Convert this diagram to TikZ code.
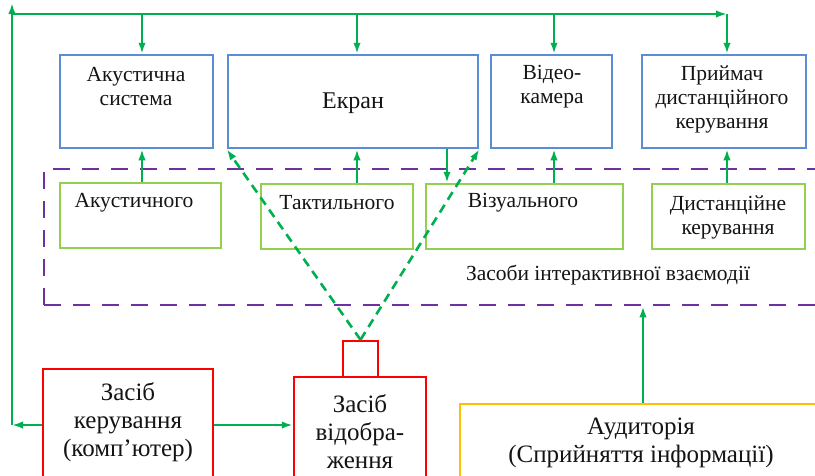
\documentclass[tikz,border=0pt]{standalone}
\usepackage{fontspec}
\setmainfont{Liberation Serif}
\usetikzlibrary{arrows.meta}
\definecolor{cblue}{RGB}{91,141,214}
\definecolor{cgreenbox}{RGB}{146,208,80}
\definecolor{cgreen}{RGB}{0,176,80}
\definecolor{cpurple}{RGB}{112,48,160}
\definecolor{cred}{RGB}{255,0,0}
\definecolor{corange}{RGB}{255,192,0}
\definecolor{ctext}{RGB}{20,20,20}
\tikzset{
  box/.style={draw, rectangle, inner sep=0pt, line width=2.5pt},
  bluebox/.style={box, draw=cblue},
  greenbox/.style={box, draw=cgreenbox},
  redbox/.style={box, draw=cred},
  orangebox/.style={box, draw=corange},
  purplebox/.style={box, draw=cpurple, line width=2.8pt, dash pattern=on 17pt off 12pt},
  small/.style={font=\fontsize{21.5}{24}\selectfont, align=center, inner sep=0pt, text=ctext},
  big/.style={font=\fontsize{25}{28}\selectfont, align=center, inner sep=0pt, text=ctext},
  conn/.style={draw=cgreen, line width=2.2pt},
  arr/.style={conn, -{Latex[length=11pt,width=7.5pt]}},
  darr/.style={arr, dash pattern=on 9pt off 6pt, line width=2.6pt},
}
\begin{document}
\begin{tikzpicture}[x=1pt,y=-1pt]
\clip (0,0) rectangle (815,475);
\fill[white] (0,0) rectangle (815,475);
% blue boxes
\node[bluebox, minimum width=153pt, minimum height=93pt] (ak) at (136.5,101.5) {};
\node[bluebox, minimum width=250pt, minimum height=93pt] (ekr) at (353,101.5) {};
\node[bluebox, minimum width=121pt, minimum height=93pt] (vid) at (551.5,101.5) {};
\node[bluebox, minimum width=164pt, minimum height=93pt] (pri) at (724,101.5) {};
\node[small] (tak) at (136,87) {Акустична\\система};
\node[big, font=\fontsize{24}{28}\selectfont] (tekr) at (353,103) {Екран};
\node[small] (tvid) at (552,87) {Відео-\\камера};
\node[small] (tpri) at (722,99) {Приймач\\дистанційного\\керування};
% purple dashed group
\node[purplebox, minimum width=786pt, minimum height=136pt] (pur) at (437,237) {};
\node[small] (tpur) at (608,275) {Засоби інтерактивної взаємодії};
% green boxes
\node[greenbox, minimum width=161pt, minimum height=65pt] (gak) at (140.5,215.5) {};
\node[greenbox, minimum width=152pt, minimum height=65pt] (gtak) at (337,216.5) {};
\node[greenbox, minimum width=197pt, minimum height=65pt] (gviz) at (524.5,216.5) {};
\node[greenbox, minimum width=153pt, minimum height=65pt] (gdist) at (728.5,216.5) {};
\node[small] (tgak) at (134,203) {Акустичного};
\node[small] (tgtak) at (337,203) {Тактильного};
\node[small] (tgviz) at (523,203) {Візуального};
\node[small] (tgdist) at (728,217.5) {Дистанційне\\керування};
% red boxes
\node[redbox, minimum width=35pt, minimum height=36pt] (proj) at (360.5,359) {};
\node[redbox, minimum width=132pt, minimum height=113pt] (zv) at (360,433.5) {};
\node[redbox, minimum width=170pt, minimum height=121pt] (zk) at (128,429.5) {};
\node[big] (tzv) at (360,432) {Засіб\\відобра-\\ження};
\node[big] (tzk) at (128,422.5) {Засіб\\керування\\(комп’ютер)};
% orange box
\node[orangebox, minimum width=370pt, minimum height=86pt] (aud) at (645,447) {};
\node[big] (taud) at (641,443) {Аудиторія\\(Сприйняття інформації)};
% bus coordinates
\coordinate (tl) at (12,14);
\coordinate (tr) at (727,14);
\coordinate (ll) at (12,425);
% feedback loop
\draw[arr] (zk.west |- ll) -- (ll);
\draw[conn] (ll) -- (tl);
\draw[arr] (ll) -- ([yshift=11pt]tl);
\draw[arr] (tl) -- (tr);
\draw[arr] (tr) -- (tr |- pri.north);
\draw[arr] ([xshift=5.5pt]ak.north |- tl) -- ([xshift=5.5pt]ak.north);
\draw[arr] ([xshift=4pt]ekr.north |- tl) -- ([xshift=4pt]ekr.north);
\draw[arr] ([xshift=2.5pt]vid.north |- tl) -- ([xshift=2.5pt]vid.north);
% interactive links
\draw[arr] ([xshift=1.5pt]gak.north) -- ([xshift=1.5pt]gak.north |- ak.south);
\draw[arr] ([xshift=20pt]gtak.north) -- ([xshift=20pt]gtak.north |- ekr.south);
\draw[arr] ([xshift=-77.5pt]gviz.north |- ekr.south) -- ([xshift=-77.5pt]gviz.north);
\draw[arr] ([xshift=2.5pt]vid.south |- gviz.north) -- ([xshift=2.5pt]vid.south);
\draw[arr] ([xshift=3pt]pri.south |- gdist.north) -- ([xshift=3pt]pri.south);
% projection
\draw[darr] (proj.north) -- (ekr.south west);
\draw[darr] (proj.north) -- (ekr.south east);
% bottom links
\draw[arr] (zk.east |- ll) -- (zv.west |- ll);
\draw[arr] ([xshift=-2pt]aud.north) -- ([xshift=-2pt]aud.north |- pur.south);
\end{tikzpicture}
\end{document}
